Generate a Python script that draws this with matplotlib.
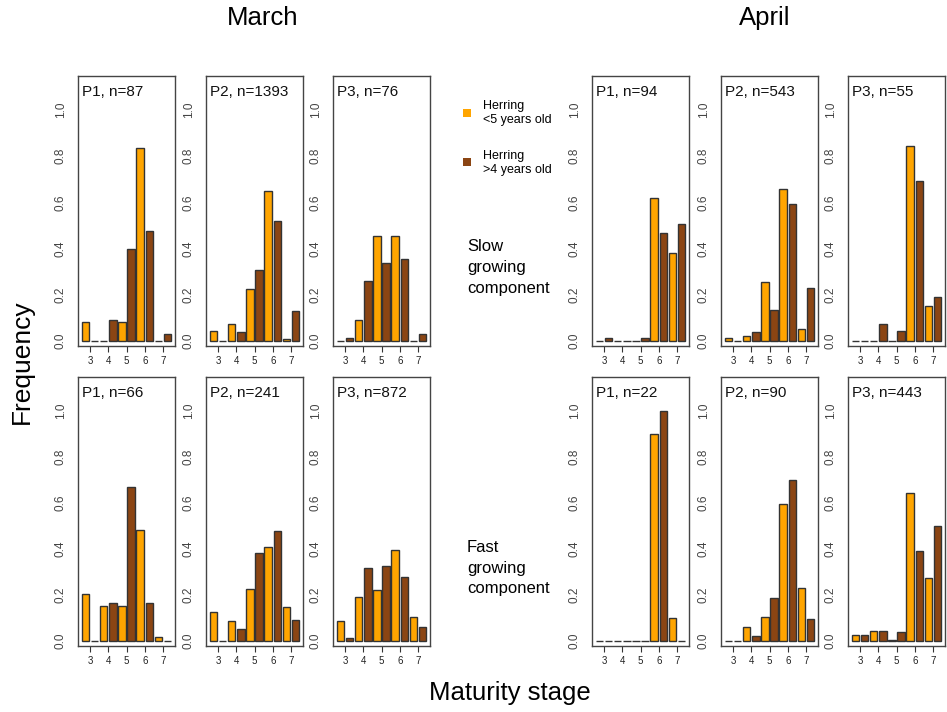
import numpy as np
import matplotlib
matplotlib.use("Agg")
import matplotlib.pyplot as plt

plt.rcParams['font.family'] = ['Liberation Sans', 'DejaVu Sans']

stages = [3, 4, 5, 6, 7]
ORANGE = '#FFA500'
BROWN = '#8B4513'

# (title, young <5 yrs, old >4 yrs) -- frequencies per maturity stage 3..7
march_slow = [
    ("P1, n=87",   [0.08, 0.00, 0.08, 0.835, 0.00], [0.00, 0.09, 0.40, 0.475, 0.03]),
    ("P2, n=1393", [0.043, 0.072, 0.225, 0.648, 0.007], [0.00, 0.037, 0.307, 0.519, 0.13]),
    ("P3, n=76",   [0.00, 0.089, 0.456, 0.456, 0.00], [0.014, 0.261, 0.336, 0.355, 0.029]),
]
april_slow = [
    ("P1, n=94",   [0.00, 0.00, 0.00, 0.619, 0.382], [0.013, 0.00, 0.013, 0.469, 0.505]),
    ("P2, n=543",  [0.012, 0.020, 0.254, 0.657, 0.053], [0.00, 0.037, 0.133, 0.592, 0.228]),
    ("P3, n=55",   [0.00, 0.00, 0.00, 0.846, 0.153], [0.00, 0.072, 0.045, 0.691, 0.189]),
]
march_fast = [
    ("P1, n=66",   [0.202, 0.151, 0.151, 0.484, 0.017], [0.00, 0.164, 0.667, 0.164, 0.00]),
    ("P2, n=241",  [0.125, 0.088, 0.226, 0.409, 0.147], [0.00, 0.050, 0.380, 0.477, 0.089]),
    ("P3, n=872",  [0.085, 0.190, 0.222, 0.395, 0.104], [0.012, 0.318, 0.326, 0.280, 0.062]),
]
april_fast = [
    ("P1, n=22",   [0.00, 0.00, 0.00, 0.90, 0.10], [0.00, 0.00, 0.00, 1.00, 0.00]),
    ("P2, n=90",   [0.00, 0.062, 0.104, 0.595, 0.232], [0.00, 0.020, 0.186, 0.699, 0.094]),
    ("P3, n=443",  [0.027, 0.042, 0.003, 0.641, 0.275], [0.024, 0.042, 0.039, 0.391, 0.50]),
]

W, H = 947, 712
fig = plt.figure(figsize=(W / 100, H / 100), dpi=100)

lefts = [78, 206, 333, 592, 721, 848]
pw = 97
rows = [(76, 346), (377, 646)]


def panel(left, top, bottom, title, young, old):
    ax = fig.add_axes([left / W, 1 - bottom / H, pw / W, (bottom - top) / H])
    # R-style barplot: 10 bars, width 1, space 0.2
    vals = []
    cols = []
    for y, o in zip(young, old):
        vals += [y, o]
        cols += [ORANGE, BROWN]
    xs = 0.7 + 1.2 * np.arange(len(vals))
    ax.bar(xs, vals, width=1.0, color=cols, edgecolor='#333333', linewidth=1.0)
    ax.set_xlim(-0.272, 12.472)
    ax.set_ylim(-0.022, 1.147)
    ticks = 1.3 + 2.4 * np.arange(len(stages))
    ax.set_xticks(ticks)
    ax.set_xticklabels([str(s) for s in stages], fontsize=7, color='#222222')
    ax.tick_params(axis='x', length=4, width=0.8, pad=3, color='#333333')
    ax.set_yticks([0, 0.2, 0.4, 0.6, 0.8, 1.0])
    ax.set_yticklabels(['0.0', '0.2', '0.4', '0.6', '0.8', '1.0'],
                       rotation=90, va='center', fontsize=8.5, color='#444444')
    ax.tick_params(axis='y', length=0, pad=8)
    for sp in ax.spines.values():
        sp.set_color('#444444')
        sp.set_linewidth(1.0)
    ax.text(0.04, 0.965, title, transform=ax.transAxes, ha='left', va='top',
            fontsize=11, color='#111111')
    return ax


groups = [march_slow + april_slow, march_fast + april_fast]
for (top, bottom), grp in zip(rows, groups):
    for left, (title, young, old) in zip(lefts, grp):
        panel(left, top, bottom, title, young, old)

# headers and axis titles
fig.text(263 / W, 1 - 18 / H, "March", ha='center', va='center', fontsize=18.5)
fig.text(765 / W, 1 - 18 / H, "April", ha='center', va='center', fontsize=18.5)
fig.text(22 / W, 1 - 362 / H, "Frequency", ha='center', va='center',
         rotation=90, fontsize=19)
fig.text(510 / W, 1 - 693 / H, "Maturity stage", ha='center', va='center', fontsize=18.5)

# legend
fig.patches.append(plt.Rectangle((463 / W, 1 - 117 / H), 8 / W, 8 / H,
                                 transform=fig.transFigure, facecolor=ORANGE,
                                 edgecolor='none'))
fig.patches.append(plt.Rectangle((463 / W, 1 - 166 / H), 8 / W, 8 / H,
                                 transform=fig.transFigure, facecolor=BROWN,
                                 edgecolor='none'))
fig.text(483 / W, 1 - 113 / H, "Herring\n<5 years old", ha='left', va='center',
         fontsize=9, linespacing=1.2)
fig.text(483 / W, 1 - 163 / H, "Herring\n>4 years old", ha='left', va='center',
         fontsize=9, linespacing=1.2)

fig.text(467 / W, 1 - 268 / H, "Slow\ngrowing\ncomponent", ha='left', va='center',
         fontsize=12, linespacing=1.5)
fig.text(467 / W, 1 - 568 / H, "Fast\ngrowing\ncomponent", ha='left', va='center',
         fontsize=12, linespacing=1.5)

fig.savefig("out.png", dpi=100)
